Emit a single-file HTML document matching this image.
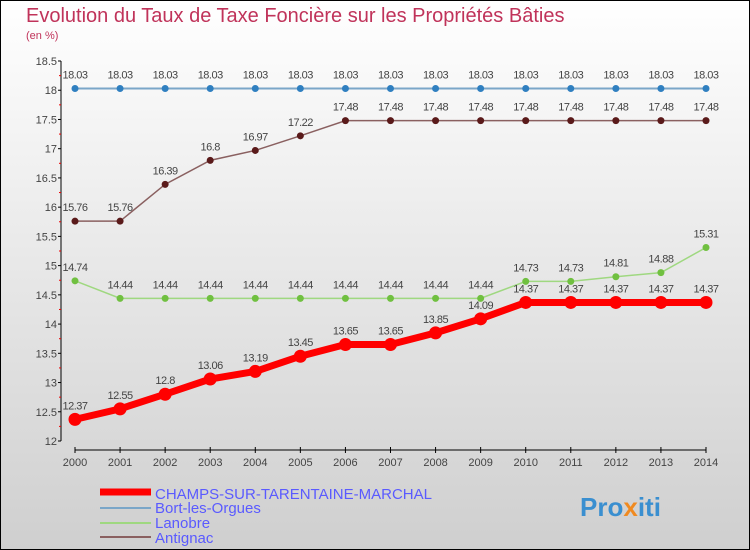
<!DOCTYPE html>
<html><head><meta charset="utf-8"><style>
body{margin:0;width:750px;height:550px;overflow:hidden}
svg{display:block}
text{font-family:"Liberation Sans",sans-serif}
</style></head><body>
<svg id="c" width="750" height="550">
<defs><linearGradient id="bg" x1="0" y1="0" x2="0" y2="1"><stop offset="0" stop-color="#ffffff"/><stop offset="1" stop-color="#cfcfcf"/></linearGradient></defs>
<rect x="0.5" y="0.5" width="749" height="549" fill="url(#bg)" stroke="#000"/>
<text x="26" y="22" font-size="20" fill="#c0335a">Evolution du Taux de Taxe Foncière sur les Propriétés Bâties</text>
<text x="26" y="39" font-size="11" fill="#c0335a">(en %)</text>
<g id="g"></g>
<g>
<line x1="100" y1="492" x2="151" y2="492" stroke="#f00" stroke-width="7"/>
<text x="155" y="499" font-size="15" fill="#5a5aff">CHAMPS-SUR-TARENTAINE-MARCHAL</text>
<line x1="100" y1="508" x2="151" y2="508" stroke="#7aa6c8" stroke-width="2"/>
<text x="155" y="513" font-size="15" fill="#5a5aff">Bort-les-Orgues</text>
<line x1="100" y1="523" x2="151" y2="523" stroke="#9fd880" stroke-width="2"/>
<text x="155" y="528" font-size="15" fill="#5a5aff">Lanobre</text>
<line x1="100" y1="537" x2="151" y2="537" stroke="#8a6060" stroke-width="2"/>
<text x="155" y="543" font-size="15" fill="#5a5aff">Antignac</text>
</g>
<text x="580" y="516" font-size="26" font-weight="bold" fill="#3a8fd0">Pro<tspan fill="#f08a20">x</tspan>iti</text>
</svg>
<script>
const years=[2000,2001,2002,2003,2004,2005,2006,2007,2008,2009,2010,2011,2012,2013,2014];
const yTicks=[12,12.5,13,13.5,14,14.5,15,15.5,16,16.5,17,17.5,18,18.5];
const champs=[12.37,12.55,12.8,13.06,13.19,13.45,13.65,13.65,13.85,14.09,14.37,14.37,14.37,14.37,14.37];
const bort=[18.03,18.03,18.03,18.03,18.03,18.03,18.03,18.03,18.03,18.03,18.03,18.03,18.03,18.03,18.03];
const lanobre=[14.74,14.44,14.44,14.44,14.44,14.44,14.44,14.44,14.44,14.44,14.73,14.73,14.81,14.88,15.31];
const antignac=[15.76,15.76,16.39,16.8,16.97,17.22,17.48,17.48,17.48,17.48,17.48,17.48,17.48,17.48,17.48];
const NS="http://www.w3.org/2000/svg",g=document.getElementById('g');
const X=i=>75+i*(706-75)/(years.length-1);
const Y=v=>441-(v-12)*(441-61)/6.5;
function mk(t,a,p){const e=document.createElementNS(NS,t);for(const k in a)e.setAttribute(k,a[k]);(p||g).appendChild(e);return e;}
// axes
let ax=mk('line',{x1:61,y1:61,x2:61,y2:441,stroke:'#000'});


let bx=mk('line',{x1:75,y1:450,x2:706,y2:450,stroke:'#000'});


yTicks.forEach(v=>{
 mk('line',{x1:58,y1:Y(v),x2:61,y2:Y(v),stroke:'#000'});
 const t=mk('text',{x:57,y:Y(v)+4,'font-size':11,'text-anchor':'end',fill:'#444'});t.textContent=v;
 
 
 if(v<18.5)mk('line',{x1:59,y1:Y(v+0.25),x2:61,y2:Y(v+0.25),stroke:'#e00'});
});
years.forEach((yr,i)=>{
 mk('line',{x1:X(i),y1:447,x2:X(i),y2:453,stroke:'#000'});
 const t=mk('text',{x:X(i),y:466,'font-size':11,'text-anchor':'middle',fill:'#444'});t.textContent=yr;
 
 
});
function series(d,col,lw,r,name,dot){
 const l=mk('polyline',{points:d.map((v,i)=>X(i)+','+Y(v)).join(' '),fill:'none',stroke:col,'stroke-width':lw});
 
 
 d.forEach((v,i)=>{
  const c=mk('circle',{cx:X(i),cy:Y(v),r:r,fill:dot});
  
  
  const t=mk('text',{x:X(i),y:Y(v)-10,'font-size':11,'text-anchor':'middle',fill:'#444','letter-spacing':'-0.5'});t.textContent=v;
  
  
 });
}
series(bort,'#7aa6c8',2,3.5,'bort','#2f7fc0');
series(antignac,'#8a6060',1.5,3.5,'antignac','#5a1a1a');
series(lanobre,'#9fd880',1.5,3.5,'lanobre','#70c040');
series(champs,'#f00',7,6.5,'champs','#f00');
</script>
</body></html>
